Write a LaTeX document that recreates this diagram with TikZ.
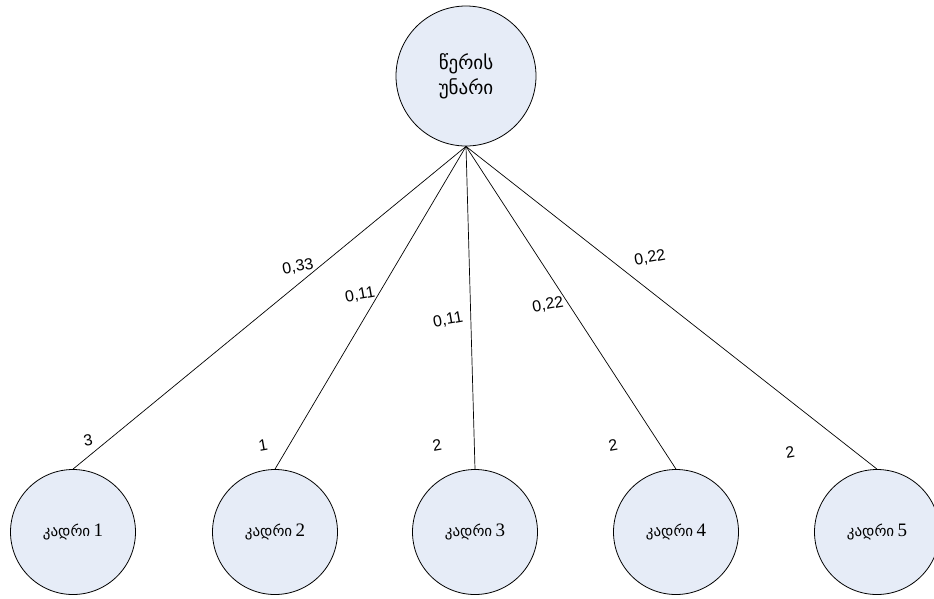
\documentclass[tikz,border=0pt]{standalone}
\usepackage{fontspec}
\setmainfont{Liberation Serif}
\setsansfont{Liberation Sans}
\newfontfamily\geo{DejaVu Sans}
\definecolor{cfill}{RGB}{230,236,247}
\newcommand{\kadri}[1]{{\geo\fontsize{15}{18}\selectfont კადრი}\,\,{\fontsize{19}{22}\selectfont #1}}
\begin{document}
\begin{tikzpicture}[x=1pt,y=-1pt,
  bigc/.style={circle,draw=black,fill=cfill,line width=0.8pt,minimum size=140pt,inner sep=0pt,align=center,font=\geo\fontsize{19}{25}\selectfont},
  smallc/.style={circle,draw=black,fill=cfill,line width=0.8pt,minimum size=125pt,inner sep=0pt},
  wlab/.style={font=\sffamily\fontsize{16}{18}\selectfont,rotate=10,inner sep=0pt},
  edge/.style={line width=0.7pt}]
\useasboundingbox (0,0) rectangle (934,598);
\node[bigc] (top) at (466,76) {წერის\\უნარი};
\node[smallc] (k1) at (73,532) {\kadri{1}};
\node[smallc] (k2) at (275,532) {\kadri{2}};
\node[smallc] (k3) at (475,532) {\kadri{3}};
\node[smallc] (k4) at (676,532) {\kadri{4}};
\node[smallc] (k5) at (877,532) {\kadri{5}};
\foreach \k in {k1,k2,k3,k4,k5}{\draw[edge] (top.south) -- (\k.north);}
\node[wlab] (w1) at (298,267) {0,33};
\node[wlab] (w2) at (360,295) {0,11};
\node[wlab] (w3) at (448,320) {0,11};
\node[wlab] (w4) at (548,305) {0,22};
\node[wlab] (w5) at (650,258) {0,22};
\node[wlab] (n1) at (88,440) {3};
\node[wlab] (n2) at (263,445) {1};
\node[wlab] (n3) at (437,445) {2};
\node[wlab] (n4) at (613,445) {2};
\node[wlab] (n5) at (790,452) {2};
\end{tikzpicture}
\end{document}
